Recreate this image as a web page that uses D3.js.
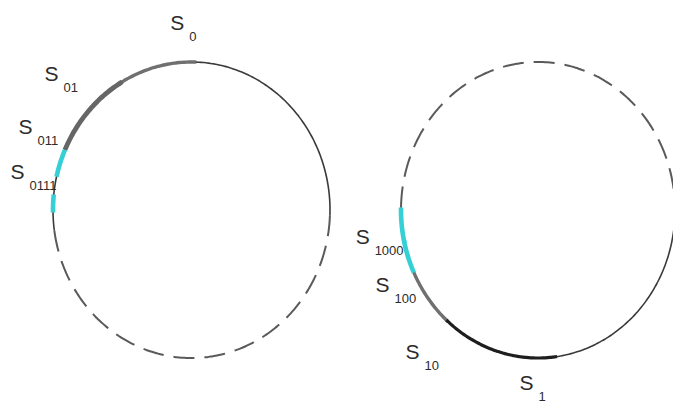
<!DOCTYPE html>
<html>
<head>
<meta charset="utf-8">
<script src="https://cdn.jsdelivr.net/npm/d3@7"></script>
<style>
body { margin: 0; background: #fff; }
text { font-family: "Liberation Sans", Arial, sans-serif; fill: #2b2b2b; }
</style>
</head>
<body>
<script>
var width = 673;
var height = 407;

// angles in degrees, clockwise from 12 o'clock, on a unit circle
var circles = ["left", "right"];

// [circle, from, to]
var solidArcs = [["left", -98, 92], ["right", 88, 271]];
var dashedArcs = [["left", 92, 262], ["right", -89, 88]];

// highlighted sub-arcs: [circle, from, to, kind]
var segments = [
  ["left", -66, 2, "gray"],
  ["left", -66, -30, "grayThick"],
  ["left", -66, -77, "cyan"],
  ["left", -84, -91, "cyan"],
  ["right", 221, 245, "gray"],
  ["right", 172, 222, "black"],
  ["right", 245, 258, "cyan"],
  ["right", 257, 271, "cyan"]
];

// labels: [circle, subscript, angle, radius]
var labels = [
  ["left", "0", -5, 1.27],
  ["left", "01", -48, 1.37],
  ["left", "011", -65, 1.33],
  ["left", "0111", -78.5, 1.29],
  ["right", "1000", 262, 1.30],
  ["right", "100", 246, 1.25],
  ["right", "10", 224, 1.33],
  ["right", "1", 184.5, 1.17]
];

var styles = {
  gray: { color: "#707070", w: 3.4 },
  grayThick: { color: "#666", w: 4.8 },
  cyan: { color: "#35cfd6", w: 4.6 },
  black: { color: "#1e1e1e", w: 3.2 }
};

var svg = d3.select("body")
  .append("svg")
  .attr("width", width)
  .attr("height", height);

// each circle gets its own x/y scales from unit coords to pixels
var scales = {
  left: {
    x: d3.scaleLinear().domain([-1, 1]).range([53, 330]),
    y: d3.scaleLinear().domain([-1, 1]).range([358, 62])
  },
  right: {
    x: d3.scaleLinear().domain([-1, 1]).range([401, 675]),
    y: d3.scaleLinear().domain([-1, 1]).range([358, 62])
  }
};

var rad = Math.PI / 180;

function arcPath(c, a0, a1) {
  var s = scales[c];
  var n = Math.max(2, Math.ceil(Math.abs(a1 - a0)));
  var pts = d3.range(n + 1).map(function(i) { return a0 + (a1 - a0) * i / n; });
  return d3.line()
    .x(function(a) { return s.x(Math.sin(a * rad)); })
    .y(function(a) { return s.y(Math.cos(a * rad)); })
    .curve(d3.curveCatmullRom)(pts);
}

svg.selectAll("path.dash")
  .data(dashedArcs)
  .enter()
  .append("path")
  .attr("class", "dash")
  .attr("d", function(d) { return arcPath(d[0], d[1], d[2]); })
  .style("fill", "none")
  .style("stroke", "#5a5a5a")
  .style("stroke-width", 2)
  .style("stroke-dasharray", "21,10");

svg.selectAll("path.solid")
  .data(solidArcs)
  .enter()
  .append("path")
  .attr("class", "solid")
  .attr("d", function(d) { return arcPath(d[0], d[1], d[2]); })
  .style("fill", "none")
  .style("stroke", "#3a3a3a")
  .style("stroke-width", 1.6);

svg.selectAll("path.seg")
  .data(segments)
  .enter()
  .append("path")
  .attr("class", "seg")
  .attr("d", function(d) { return arcPath(d[0], d[1], d[2]); })
  .style("fill", "none")
  .style("stroke", function(d) { return styles[d[3]].color; })
  .style("stroke-width", function(d) { return styles[d[3]].w; });

var lab = svg.selectAll("text")
  .data(labels)
  .enter()
  .append("text")
  .attr("x", function(d) { return scales[d[0]].x(d[3] * Math.sin(d[2] * rad)) - 6; })
  .attr("y", function(d) { return scales[d[0]].y(d[3] * Math.cos(d[2] * rad)) + 7; });

lab.append("tspan")
  .style("font-size", "21px")
  .text("S");

lab.append("tspan")
  .attr("dx", 5)
  .attr("dy", 11)
  .style("font-size", "13px")
  .text(function(d) { return d[1]; });
</script>
</body>
</html>
